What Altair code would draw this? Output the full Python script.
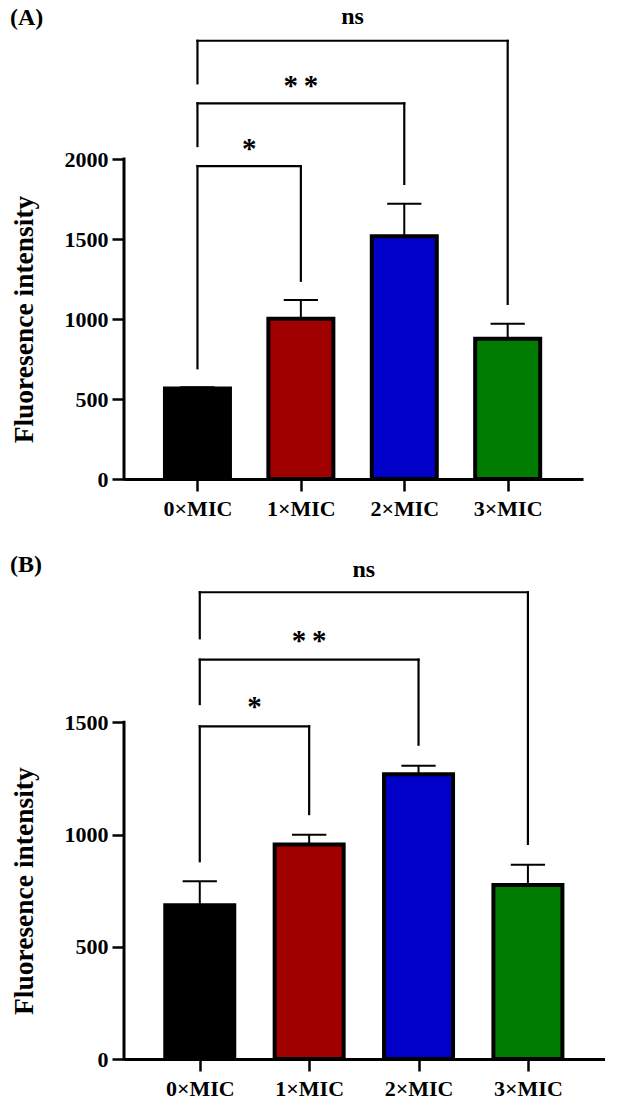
import altair as alt
import pandas as pd

# Treatment groups and bar fills
groups = ["0×MIC", "1×MIC", "2×MIC", "3×MIC"]
colors = ["#000000", "#a00000", "#0000c8", "#007d00"]

# Panel A: mean fluorescence and SD
mean_a = [565, 1002, 1517, 877]
sd_a = [8, 117, 204, 94]

# Panel B: mean fluorescence and SD
mean_b = [685, 956, 1268, 775]
sd_b = [107, 43, 38, 90]

# Pairwise comparisons against the 0×MIC control
cmp_left = [0, 0, 0]
cmp_right = [1, 2, 3]
cmp_label = ["*", "**", "ns"]

# Bracket geometry in data units: top bar, left leg end, right leg end, label
top_a = [1956, 2348, 2739]
leg_l_a = [692, 2081, 2473]
leg_r_a = [1239, 1844, 1094]
lab_a = [2083, 2477, 2886]

top_b = [1482, 1779, 2079]
leg_l_b = [881, 1581, 1874]
leg_r_b = [1091, 1400, 958]
lab_b = [1581, 1875, 2180]

yticks_a = [0, 500, 1000, 1500, 2000]
yticks_b = [0, 500, 1000, 1500]

FONT = "Liberation Serif"
label_expr = "[" + ",".join(f"'{g}'" for g in groups) + "][datum.value]"


def panel(tag, means, sds, tops, leg_l, leg_r, labs, yticks,
          width, height, px_per_unit, x_lo, x_hi, bar_px):
    y_max = height / px_per_unit
    step_px = width / (x_hi - x_lo)
    cap_half = 17.5 / step_px
    # centre the axis title on the drawn part of the y axis
    title_y = height - (yticks[-1] / 2) * px_per_unit

    xs = alt.Scale(domain=[x_lo, x_hi], nice=False, zero=False)
    ys = alt.Scale(domain=[0, y_max], nice=False, zero=False)

    x_axis = alt.Axis(values=[0, 1, 2, 3], labelExpr=label_expr, title=None,
                      grid=False, domainWidth=3, domainColor="black",
                      tickSize=12, tickWidth=2.5, tickColor="black",
                      labelFont=FONT, labelFontSize=22, labelFontWeight="bold",
                      labelColor="black", labelPadding=7, labelAngle=0)
    y_axis = alt.Axis(values=yticks, format="d", title="Fluoresence intensity",
                      grid=False, domain=False, tickSize=12, tickWidth=2.5,
                      tickColor="black",
                      labelFont=FONT, labelFontSize=22, labelFontWeight="bold",
                      labelColor="black", labelPadding=4,
                      titleFont=FONT, titleFontSize=27.5, titleFontWeight="bold",
                      titleColor="black", titlePadding=26, titleY=title_y)

    df = pd.DataFrame({"idx": range(len(groups)), "group": groups,
                       "mean": means, "sd": sds})
    base = alt.Chart(df).transform_calculate(
        hi="datum.mean + datum.sd",
        cl=f"datum.idx - {cap_half}",
        cr=f"datum.idx + {cap_half}",
    )

    bars = base.mark_bar(size=bar_px, stroke="black", strokeWidth=4,
                         orient="vertical").encode(
        x=alt.X("idx:Q", scale=xs, axis=x_axis),
        y=alt.Y("mean:Q", scale=ys, axis=y_axis),
        color=alt.Color("group:N", scale=alt.Scale(domain=groups, range=colors),
                        legend=None),
    )
    stems = base.mark_rule(color="black", strokeWidth=2).encode(
        x="idx:Q", y="mean:Q", y2="hi:Q")
    caps = base.mark_rule(color="black", strokeWidth=2).encode(
        x="cl:Q", x2="cr:Q", y="hi:Q")

    yline = alt.Chart(pd.DataFrame({"y0": [0], "y1": [yticks[-1]]})).mark_rule(
        color="black", strokeWidth=3, strokeCap="square").encode(
        x=alt.value(0), y="y0:Q", y2="y1:Q")

    bdf = pd.DataFrame({"left": cmp_left, "right": cmp_right, "label": cmp_label,
                        "top": tops, "lbot": leg_l, "rbot": leg_r, "ly": labs})
    bbase = alt.Chart(bdf)
    rule_kw = dict(color="black", strokeWidth=2.2, strokeCap="square")
    hbar = bbase.mark_rule(**rule_kw).encode(x="left:Q", x2="right:Q", y="top:Q")
    lleg = bbase.mark_rule(**rule_kw).encode(x="left:Q", y="lbot:Q", y2="top:Q")
    rleg = bbase.mark_rule(**rule_kw).encode(x="right:Q", y="rbot:Q", y2="top:Q")

    tbase = bbase.transform_calculate(mid="(datum.left + datum.right) / 2")
    # asterisks are set with a thin space between them
    stars = tbase.transform_filter("datum.label != 'ns'").transform_calculate(
        shown="join(split(datum.label, ''), '\u2009')"
    ).mark_text(
        font=FONT, fontSize=29, fontWeight="bold", color="black",
        baseline="middle", dy=3).encode(x="mid:Q", y="ly:Q", text="shown:N")
    ns = tbase.transform_filter("datum.label == 'ns'").mark_text(
        font=FONT, fontSize=24, fontWeight="bold", color="black",
        baseline="middle").encode(x="mid:Q", y="ly:Q", text="label:N")

    tag_txt = alt.Chart(pd.DataFrame({"t": [tag]})).mark_text(
        font=FONT, fontSize=24, fontWeight="bold", color="black",
        align="left", baseline="middle").encode(
        x=alt.value(-114), y=alt.value(18), text="t:N")

    return alt.layer(bars, stems, caps, yline, hbar, lleg, rleg, stars, ns,
                     tag_txt).properties(width=width, height=height)


panel_a = panel("(A)", mean_a, sd_a, top_a, leg_l_a, leg_r_a, lab_a, yticks_a,
                width=459, height=479, px_per_unit=0.16,
                x_lo=-0.662, x_hi=3.680, bar_px=65)
panel_b = panel("(B)", mean_b, sd_b, top_b, leg_l_b, leg_r_b, lab_b, yticks_b,
                width=481, height=512, px_per_unit=0.2245,
                x_lo=-0.647, x_hi=3.659, bar_px=69)

chart = alt.vconcat(panel_a, panel_b, spacing=28).properties(
    padding={"left": 10, "top": 0, "right": 0, "bottom": 0},
    background="white",
).configure_view(stroke=None)

chart.save("out.html", embed_options={"renderer": "svg", "actions": False})
